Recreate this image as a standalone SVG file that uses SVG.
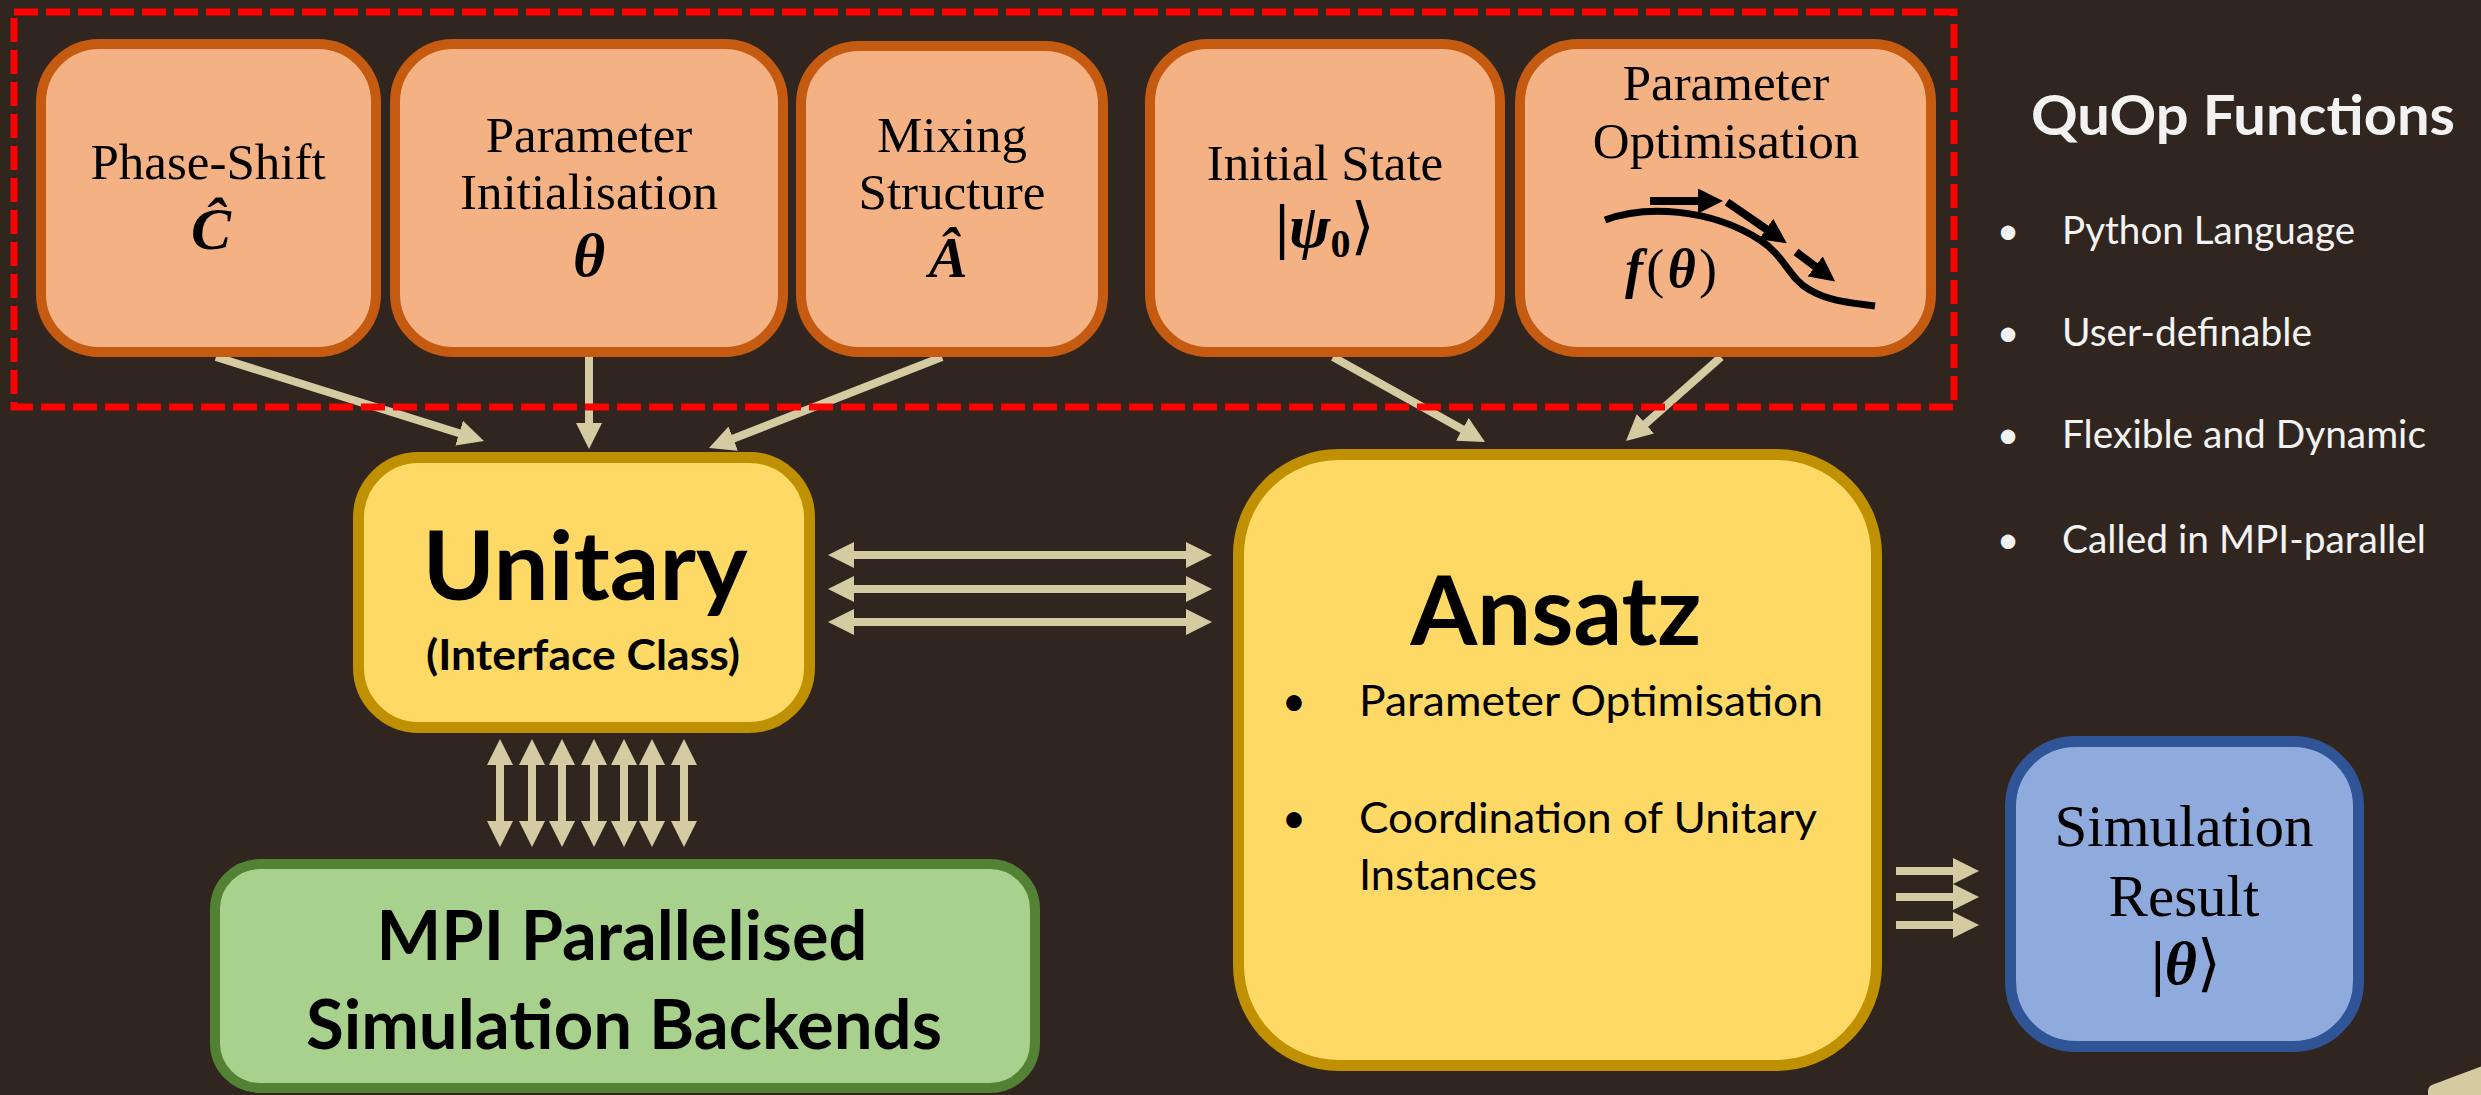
<svg xmlns="http://www.w3.org/2000/svg" width="2481" height="1095" viewBox="0 0 2481 1095">
  <style>
    .serif { font-family: 'Liberation Serif', 'DejaVu Serif', serif; fill: #000; }
    .math { font-family: 'Liberation Serif', 'DejaVu Serif', serif; font-style: italic; font-weight: bold; fill: #000; }
    .sans { font-family: Lato, 'Open Sans', 'Liberation Sans', sans-serif; fill: #000; }
    .white { fill: #F2F2F2; }
    .func { fill: #F4B183; stroke: #C55A11; stroke-width: 10; }
    .core { fill: #FFD966; stroke: #BF9000; stroke-width: 11; }
    .backend { fill: #A9D18E; stroke: #548235; stroke-width: 10; }
    .result { fill: #8FAADC; stroke: #2F5597; stroke-width: 11; }
    .link { stroke: #D4CBA3; stroke-width: 8; fill: none; }
    .mid { text-anchor: middle; }
  </style>
  <defs>
    <marker id="ah" viewBox="0 0 26 26" refX="1" refY="13" markerWidth="26" markerHeight="26" markerUnits="userSpaceOnUse" orient="auto-start-reverse">
      <path d="M0,0 L26,13 L0,26 Z" fill="#D4CBA3"/>
    </marker>
    <marker id="bh" viewBox="0 0 25 25" refX="1" refY="12.5" markerWidth="25" markerHeight="25" markerUnits="userSpaceOnUse" orient="auto">
      <path d="M0,0 L25,12.5 L0,25 Z" fill="#000"/>
    </marker>
  </defs>

  <!-- slide background -->
  <rect x="0" y="0" width="2481" height="1095" fill="#30261F"/>

  <!-- connectors -->
  <g id="connectors">
    <!-- function boxes into Unitary -->
    <line class="link" x1="216" y1="357" x2="460.1" y2="433.5" marker-end="url(#ah)"/>
    <line class="link" x1="589" y1="357" x2="589" y2="424" marker-end="url(#ah)"/>
    <line class="link" x1="942" y1="357" x2="732.3" y2="439" marker-end="url(#ah)"/>
    <!-- function boxes into Ansatz -->
    <line class="link" x1="1333" y1="357" x2="1463.2" y2="429.8" marker-end="url(#ah)"/>
    <line class="link" x1="1721" y1="357" x2="1644.7" y2="424.4" marker-end="url(#ah)"/>
    <!-- Unitary <-> Ansatz -->
    <line class="link" x1="853" y1="555" x2="1187" y2="555" marker-start="url(#ah)" marker-end="url(#ah)"/>
    <line class="link" x1="853" y1="589" x2="1187" y2="589" marker-start="url(#ah)" marker-end="url(#ah)"/>
    <line class="link" x1="853" y1="622" x2="1187" y2="622" marker-start="url(#ah)" marker-end="url(#ah)"/>
    <!-- Unitary <-> backends -->
    <line class="link" x1="500" y1="764" x2="500" y2="822" marker-start="url(#ah)" marker-end="url(#ah)"/>
    <line class="link" x1="532" y1="764" x2="532" y2="822" marker-start="url(#ah)" marker-end="url(#ah)"/>
    <line class="link" x1="562" y1="764" x2="562" y2="822" marker-start="url(#ah)" marker-end="url(#ah)"/>
    <line class="link" x1="594" y1="764" x2="594" y2="822" marker-start="url(#ah)" marker-end="url(#ah)"/>
    <line class="link" x1="624" y1="764" x2="624" y2="822" marker-start="url(#ah)" marker-end="url(#ah)"/>
    <line class="link" x1="652" y1="764" x2="652" y2="822" marker-start="url(#ah)" marker-end="url(#ah)"/>
    <line class="link" x1="684" y1="764" x2="684" y2="822" marker-start="url(#ah)" marker-end="url(#ah)"/>
    <!-- Ansatz -> result -->
    <line class="link" x1="1896" y1="871" x2="1954" y2="871" stroke-width="9" marker-end="url(#ah)"/>
    <line class="link" x1="1896" y1="897" x2="1954" y2="897" stroke-width="9" marker-end="url(#ah)"/>
    <line class="link" x1="1896" y1="925" x2="1954" y2="925" stroke-width="9" marker-end="url(#ah)"/>
  </g>

  <!-- user-definable function boxes -->
  <g id="phase-shift">
    <rect class="func" x="41" y="44" width="335" height="308" rx="58"/>
    <text class="serif mid" x="208" y="179" font-size="51">Phase-Shift</text>
    <text class="math mid" x="211" y="249" font-size="60">Ĉ</text>
  </g>
  <g id="parameter-initialisation">
    <rect class="func" x="395" y="44" width="388" height="308" rx="58"/>
    <text class="serif mid" x="589" y="152" font-size="51">Parameter</text>
    <text class="serif mid" x="589" y="209" font-size="51">Initialisation</text>
    <text class="math mid" x="589" y="276" font-size="62">θ</text>
  </g>
  <g id="mixing-structure">
    <rect class="func" x="801" y="46" width="302" height="306" rx="58"/>
    <text class="serif mid" x="952" y="152" font-size="51">Mixing</text>
    <text class="serif mid" x="952" y="209" font-size="51">Structure</text>
    <text class="math mid" x="948" y="277" font-size="58">Â</text>
  </g>
  <g id="initial-state">
    <rect class="func" x="1150" y="44" width="350" height="308" rx="58"/>
    <text class="serif mid" x="1325" y="180" font-size="51">Initial State</text>
    <text class="math mid" x="1325" y="247" font-size="62"><tspan font-style="normal">|</tspan>ψ<tspan font-size="40" font-style="normal" dy="10">0</tspan><tspan font-style="normal" font-weight="normal" dy="-10">⟩</tspan></text>
  </g>
  <g id="parameter-optimisation">
    <rect class="func" x="1520" y="44" width="411" height="308" rx="58"/>
    <text class="serif mid" x="1726" y="100" font-size="51">Parameter</text>
    <text class="serif mid" x="1726" y="158" font-size="51">Optimisation</text>
    <path d="M1605,220 C1645,205 1710,208 1760,240 C1785,256 1790,280 1810,290 C1830,302 1855,303 1875,306" fill="none" stroke="#000" stroke-width="7"/>
    <line x1="1650" y1="201" x2="1699" y2="201" stroke="#000" stroke-width="8" marker-end="url(#bh)"/>
    <line x1="1727" y1="202" x2="1767" y2="229.6" stroke="#000" stroke-width="8" marker-end="url(#bh)"/>
    <line x1="1796" y1="252" x2="1816" y2="267" stroke="#000" stroke-width="8" marker-end="url(#bh)"/>
    <text class="math" x="1625" y="287" font-size="54" textLength="92">f<tspan font-style="normal" font-weight="normal">(</tspan>θ<tspan font-style="normal" font-weight="normal">)</tspan></text>
  </g>

  <!-- core classes -->
  <g id="unitary">
    <rect class="core" x="358.5" y="457.5" width="451" height="270" rx="60"/>
    <text class="sans mid" x="585" y="600" font-size="95" font-weight="bold" textLength="325" lengthAdjust="spacingAndGlyphs">Unitary</text>
    <text class="sans mid" x="583" y="670" font-size="42" font-weight="bold" textLength="314" lengthAdjust="spacingAndGlyphs">(Interface Class)</text>
  </g>
  <g id="ansatz">
    <rect class="core" x="1238.5" y="454.5" width="638" height="611" rx="100"/>
    <text class="sans mid" x="1556" y="645" font-size="96" font-weight="bold" textLength="291" lengthAdjust="spacingAndGlyphs">Ansatz</text>
    <text class="sans mid" x="1294" y="716" font-size="42">•</text>
    <text class="sans" x="1359" y="716" font-size="42" textLength="464" lengthAdjust="spacingAndGlyphs">Parameter Optimisation</text>
    <text class="sans mid" x="1294" y="833" font-size="42">•</text>
    <text class="sans" x="1359" y="833" font-size="42" textLength="458" lengthAdjust="spacingAndGlyphs">Coordination of Unitary</text>
    <text class="sans" x="1359" y="890" font-size="42" textLength="178" lengthAdjust="spacingAndGlyphs">Instances</text>
  </g>
  <g id="simulation-backends">
    <rect class="backend" x="215" y="864" width="820" height="224" rx="45"/>
    <text class="sans mid" x="622" y="960" font-size="68" font-weight="bold" textLength="491" lengthAdjust="spacingAndGlyphs">MPI Parallelised</text>
    <text class="sans mid" x="624" y="1049" font-size="68" font-weight="bold" textLength="636" lengthAdjust="spacingAndGlyphs">Simulation Backends</text>
  </g>
  <g id="simulation-result">
    <rect class="result" x="2010.5" y="741.5" width="348" height="305" rx="65"/>
    <text class="serif mid" x="2184" y="846" font-size="59">Simulation</text>
    <text class="serif mid" x="2184" y="916" font-size="59">Result</text>
    <text class="math mid" x="2186" y="984" font-size="62"><tspan font-style="normal">|</tspan>θ<tspan font-style="normal" font-weight="normal">⟩</tspan></text>
  </g>

  <!-- frame round the user-definable functions -->
  <rect x="14" y="12" width="1940" height="395" fill="none" stroke="#FF0000" stroke-width="7" stroke-dasharray="24 8"/>

  <!-- side notes -->
  <g id="quop-functions">
    <text class="sans white" x="2031" y="135" font-size="56" font-weight="bold" textLength="424" lengthAdjust="spacingAndGlyphs">QuOp Functions</text>
    <text class="sans white mid" x="2008" y="244" font-size="39">•</text>
    <text class="sans white" x="2062" y="244" font-size="39" textLength="293" lengthAdjust="spacingAndGlyphs">Python Language</text>
    <text class="sans white mid" x="2008" y="346" font-size="39">•</text>
    <text class="sans white" x="2062" y="346" font-size="39" textLength="250" lengthAdjust="spacingAndGlyphs">User-definable</text>
    <text class="sans white mid" x="2008" y="448" font-size="39">•</text>
    <text class="sans white" x="2062" y="448" font-size="39" textLength="364" lengthAdjust="spacingAndGlyphs">Flexible and Dynamic</text>
    <text class="sans white mid" x="2008" y="553" font-size="39">•</text>
    <text class="sans white" x="2062" y="553" font-size="39" textLength="364" lengthAdjust="spacingAndGlyphs">Called in MPI-parallel</text>
  </g>

  <!-- corner of a shape entering from the bottom right -->
  <path d="M2428,1095 L2428,1091 Q2428,1086 2433,1084.5 L2481,1066.5 L2481,1095 Z" fill="#D4CBA3"/>
</svg>
